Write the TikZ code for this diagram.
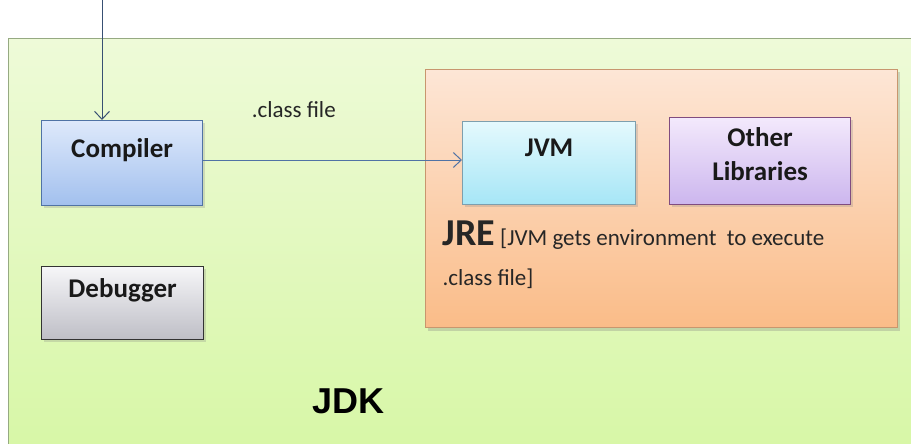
\documentclass[tikz,border=0pt]{standalone}
\usepackage{fontspec}
\setmainfont{Carlito}
\newfontfamily\headfont{Liberation Sans}
\usetikzlibrary{arrows.meta,shadows}
\definecolor{jdktop}{RGB}{238,250,216}
\definecolor{jdkbot}{RGB}{214,247,164}
\definecolor{jdkline}{RGB}{150,170,130}
\definecolor{jretop}{RGB}{253,230,214}
\definecolor{jrebot}{RGB}{250,188,136}
\definecolor{jreline}{RGB}{200,150,110}
\definecolor{flowblue}{RGB}{80,115,165}
\definecolor{comptop}{RGB}{222,233,251}
\definecolor{compbot}{RGB}{162,192,238}
\definecolor{jvmtop}{RGB}{228,249,253}
\definecolor{jvmbot}{RGB}{166,230,246}
\definecolor{libtop}{RGB}{243,233,252}
\definecolor{libbot}{RGB}{204,182,238}
\definecolor{dbgtop}{RGB}{246,246,248}
\definecolor{dbgbot}{RGB}{190,190,198}

\tikzset{
  unit/.style={draw=#1, line width=1.2pt, inner sep=0pt, anchor=north west,
    align=center, text=black!90,
    font=\fontsize{27}{34}\selectfont\bfseries,
    drop shadow={shadow xshift=2pt, shadow yshift=-2pt, opacity=0.25}},
  flow/.style={draw=flowblue, line width=1pt,
    -{Straight Barb[length=8pt,width=15pt]}},
  plain/.style={anchor=base west, text=black!85, font=\fontsize{23}{28}\selectfont},
}

\begin{document}
\begin{tikzpicture}[x=1pt,y=-1pt]
\useasboundingbox (0,0) rectangle (911,444);
\fill[white] (0,0) rectangle (911,444);

% JDK area, runs off the right and bottom edge
\shade[top color=jdktop, bottom color=jdkbot, draw=jdkline, line width=1pt]
  (8,39) rectangle (930,470);
\node[font=\headfont\fontsize{36}{40}\selectfont\bfseries, anchor=base west]
  (jdk) at (309,413) {JDK};

% JRE area
\node[draw=jreline, line width=1pt, top color=jretop, bottom color=jrebot,
  minimum width=472pt, minimum height=258pt, anchor=north west,
  drop shadow={shadow xshift=2pt, shadow yshift=-3pt, opacity=0.3}]
  (jre) at (425,69) {};
\node[plain] (jretext) at (439,245)
  {{\fontsize{38}{40}\selectfont\bfseries JRE} [JVM gets environment\ \ to execute};
\node[plain] (jretext2) at (439,285) {.class file]};

% boxes
\node[unit=flowblue, top color=comptop, bottom color=compbot,
  minimum width=161pt, text height=37pt, text depth=48pt] (compiler) at (41,120) {Compiler};
\node[unit=black!80, top color=dbgtop, bottom color=dbgbot,
  minimum width=162pt, text height=31pt, text depth=42pt] (debugger) at (41,266) {Debugger};
\node[unit=cyan!30!gray, top color=jvmtop, bottom color=jvmbot,
  minimum width=173pt, text height=35pt, text depth=48pt] (jvm) at (462,121) {JVM};
\node[unit=violet!40!gray, top color=libtop, bottom color=libbot,
  minimum width=181pt, text height=63pt, text depth=24pt] (libs) at (669,117) {Other\\Libraries};

% source comes in from above
\coordinate (src) at (102,0);
\draw[flow, draw=flowblue!70!black] (src) -- (src |- compiler.north);
\draw[flow] (compiler.east |- 0,160) -- (jvm.west |- 0,160)
  node[pos=0.35, above=38pt, font=\fontsize{23}{28}\selectfont, text=black!85] (cls) {.class file};
\end{tikzpicture}
\end{document}
